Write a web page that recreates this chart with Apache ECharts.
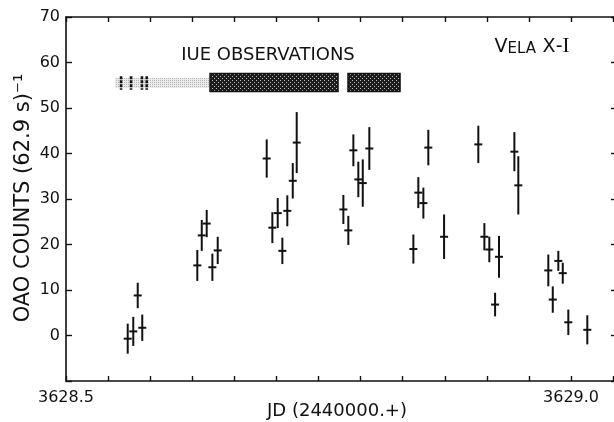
<!DOCTYPE html>
<html>
<head>
<meta charset="utf-8">
<script src="https://cdn.jsdelivr.net/npm/echarts@6/dist/echarts.min.js"></script>
<style>
  html, body { margin: 0; padding: 0; background: #fff; }
  #chart { width: 614px; height: 422px; }
</style>
</head>
<body>
<div id="chart"></div>
<script>
// OAO light curve of Vela X-1 with IUE observation windows

// Julian date (2440000 +) of each OAO bin
const jd = [
  3628.5611, 3628.5666, 3628.5710, 3628.5755,
  3628.6300, 3628.6344, 3628.6393, 3628.6449, 3628.6502,
  3628.6987, 3628.7043, 3628.7096, 3628.7142, 3628.7191, 3628.7245, 3628.7284,
  3628.7746, 3628.7795, 3628.7845, 3628.7894, 3628.7938, 3628.8003,
  3628.8439, 3628.8488, 3628.8538, 3628.8587, 3628.8743,
  3628.9082, 3628.9142, 3628.9191, 3628.9248, 3628.9287, 3628.9439, 3628.9478,
  3628.9775, 3628.9819, 3628.9874, 3628.9918, 3628.9973, 3629.0161
];
// counts per 62.9 s
const counts = [
  -0.7, 0.9, 8.8, 1.7,
  15.4, 22.0, 24.6, 15.0, 18.7,
  38.9, 23.7, 26.9, 18.6, 27.4, 34.0, 42.4,
  27.7, 23.1, 40.7, 34.3, 33.5, 41.1,
  19.0, 31.4, 29.1, 41.3, 21.7,
  42.0, 21.7, 18.9, 6.8, 17.3, 40.4, 33.0,
  14.3, 7.9, 16.4, 13.7, 2.9, 1.25
];
// one-sigma uncertainty
const errors = [
  3.3, 3.2, 2.8, 2.9,
  3.4, 3.4, 3.0, 3.0, 3.0,
  4.2, 3.4, 3.3, 2.9, 3.4, 3.9, 6.7,
  3.2, 3.2, 3.5, 3.9, 5.2, 4.7,
  3.2, 3.4, 3.4, 3.9, 4.9,
  4.1, 3.0, 2.8, 2.6, 4.6, 4.3, 6.4,
  3.5, 2.9, 2.2, 2.3, 2.8, 3.2
];

// IUE coverage: continuous exposure blocks [start, end]
const iueBlocks = [[3628.6426, 3628.7693], [3628.7792, 3628.8307]];
// sparse coverage band before the first block
const iueSparse = [[3628.5485, 3628.6426]];
// individual short exposures
const iueShots = [3628.5545, 3628.5644, 3628.5752, 3628.5799];
// vertical extent of the IUE strip, in count units
const iueBand = { low: 53.6, high: 57.6 };
const iueSparseBand = { low: 54.4, high: 56.6 };
const iueShotBand = { low: 54.0, high: 57.0 };

const xLabels = ['3628.5', '3629.0'];
const FONT = 'DejaVu Sans';
const INK = '#111';

function hatchPattern() {
  const c = document.createElement('canvas');
  c.width = 4; c.height = 4;
  const g = c.getContext('2d');
  g.fillStyle = '#1c1c1c';
  g.fillRect(0, 0, 4, 4);
  g.fillStyle = '#bdbdbd';
  g.fillRect(0, 0, 1, 1);
  g.fillRect(2, 2, 1, 1);
  return c;
}
function stipplePattern() {
  const c = document.createElement('canvas');
  c.width = 2; c.height = 2;
  const g = c.getContext('2d');
  g.fillStyle = '#ececec';
  g.fillRect(0, 0, 2, 2);
  g.fillStyle = '#b4b4b4';
  g.fillRect(0, 0, 1, 1);
  return c;
}

const chart = echarts.init(document.getElementById('chart'), null, { renderer: 'canvas' });

const xCommon = {
  type: 'value', min: 3628.5, max: 3629.0455, interval: 1 / 24,
  splitLine: { show: false },
  axisLine: { show: true, onZero: false, lineStyle: { color: INK, width: 1.6 } },
  axisTick: { show: true, inside: true, length: 5, lineStyle: { color: INK, width: 1.4 } }
};
const yCommon = {
  type: 'value', min: -10, max: 70, interval: 10,
  splitLine: { show: false },
  axisLine: { show: true, onZero: false, lineStyle: { color: INK, width: 1.6 } },
  axisTick: { show: true, inside: true, length: 6, lineStyle: { color: INK, width: 1.4 } }
};

function rectItem(x0, x1, lo, hi, api, style) {
  const p0 = api.coord([x0, hi]);
  const p1 = api.coord([x1, lo]);
  return { type: 'rect', shape: { x: p0[0], y: p0[1], width: p1[0] - p0[0], height: p1[1] - p0[1] }, style };
}

chart.setOption({
  animation: false,
  backgroundColor: '#fff',
  grid: { left: 66, top: 17, width: 551, height: 364, containLabel: false, outerBoundsMode: 'none' },
  xAxis: [
    Object.assign({}, xCommon, {
      position: 'bottom',
      axisLabel: {
        color: INK, fontFamily: FONT, fontSize: 16, margin: 9,
        showMinLabel: true, showMaxLabel: true,
        formatter: v => Math.abs(v - 3628.5) < 1e-6 ? xLabels[0] : (Math.abs(v - 3629.0) < 1e-6 ? xLabels[1] : '')
      }
    }),
    Object.assign({}, xCommon, { position: 'top', axisLabel: { show: false } })
  ],
  yAxis: [
    Object.assign({}, yCommon, {
      position: 'left',
      axisLabel: { color: INK, fontFamily: FONT, fontSize: 16, margin: 6, formatter: v => v < 0 ? '' : String(v) }
    }),
    Object.assign({}, yCommon, { position: 'right', axisLabel: { show: false } })
  ],
  series: [
    {
      // IUE strip
      type: 'custom',
      silent: true,
      data: [0],
      renderItem: function (params, api) {
        const kids = [];
        iueSparse.forEach(s => kids.push(rectItem(s[0], s[1], iueSparseBand.low, iueSparseBand.high, api,
          { fill: { image: stipplePattern(), repeat: 'repeat' } })));
        iueBlocks.forEach(b => kids.push(rectItem(b[0], b[1], iueBand.low, iueBand.high, api,
          { fill: { image: hatchPattern(), repeat: 'repeat' }, stroke: '#111', lineWidth: 1.5 })));
        iueShots.forEach(t => {
          const a = api.coord([t, iueShotBand.high]);
          const b = api.coord([t, iueShotBand.low]);
          kids.push({ type: 'line', shape: { x1: a[0], y1: a[1], x2: b[0], y2: b[1] },
            style: { stroke: '#111', lineWidth: 2.6, lineDash: [3, 1] } });
        });
        return { type: 'group', children: kids };
      }
    },
    {
      // count rate with error bars
      type: 'custom',
      silent: true,
      data: jd.map((x, i) => [x, counts[i], errors[i]]),
      renderItem: function (params, api) {
        const x = api.value(0), y = api.value(1), e = api.value(2);
        const c = api.coord([x, y]);
        const t = api.coord([x, y + e]);
        const b = api.coord([x, y - e]);
        return {
          type: 'group',
          children: [
            { type: 'line', shape: { x1: c[0], y1: t[1], x2: c[0], y2: b[1] }, style: { stroke: INK, lineWidth: 2 } },
            { type: 'line', shape: { x1: c[0] - 4, y1: c[1], x2: c[0] + 4, y2: c[1] }, style: { stroke: INK, lineWidth: 2 } }
          ]
        };
      }
    }
  ],
  graphic: [
    {
      type: 'text', x: 268, y: 55,
      style: { text: 'IUE OBSERVATIONS', fontFamily: FONT, fontSize: 18, fill: INK, align: 'center', verticalAlign: 'middle' }
    },
    {
      type: 'text', x: 532, y: 46,
      style: {
        text: '{b|V}{s|ELA}  {b|X}{b|-}{r|I}',
        align: 'center', verticalAlign: 'middle',
        rich: {
          b: { fontFamily: FONT, fontSize: 19, fill: INK, verticalAlign: 'bottom', lineHeight: 22 },
          s: { fontFamily: FONT, fontSize: 15, fill: INK, verticalAlign: 'bottom', lineHeight: 22 },
          r: { fontFamily: 'Liberation Serif', fontSize: 21, fill: INK, verticalAlign: 'bottom', lineHeight: 22 }
        }
      }
    },
    {
      type: 'text', x: 24, y: 198, rotation: Math.PI / 2,
      style: { text: 'OAO COUNTS (62.9 s)\u207B\u00B9', fontFamily: FONT, fontSize: 21, fill: INK, align: 'center', verticalAlign: 'middle' }
    },
    {
      type: 'text', x: 337, y: 411,
      style: { text: 'JD (2440000.+)', fontFamily: FONT, fontSize: 18, fill: INK, align: 'center', verticalAlign: 'middle' }
    }
  ]
});
</script>
</body>
</html>
